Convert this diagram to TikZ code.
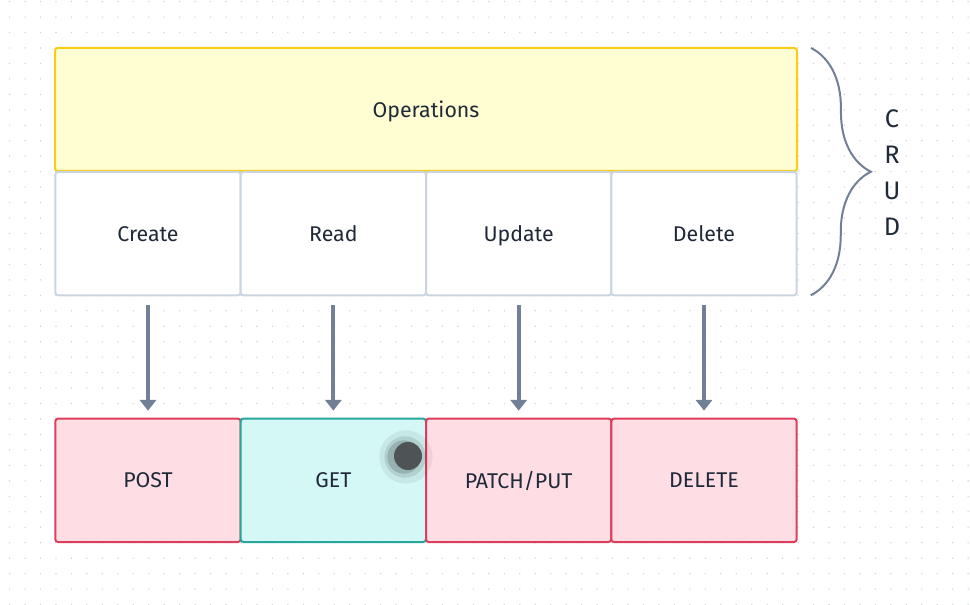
\documentclass[tikz,border=0pt]{standalone}
\usepackage{fontspec}
\setmainfont{Fira Sans}
\usetikzlibrary{positioning,arrows.meta,matrix,decorations.pathreplacing}
\definecolor{opsfill}{HTML}{FFFDD2}
\definecolor{opsline}{HTML}{FACC15}
\definecolor{crudline}{HTML}{CBD5E1}
\definecolor{postfill}{HTML}{FFDDE4}
\definecolor{postline}{HTML}{DC3D5A}
\definecolor{getfill}{HTML}{D3F8F6}
\definecolor{getline}{HTML}{26A69A}
\definecolor{arrowc}{HTML}{718096}
\definecolor{textc}{HTML}{1F2937}
\definecolor{dotc}{HTML}{CDD3DE}
\definecolor{blobc}{HTML}{4E5355}
\tikzstyle{opsbox}  = [rectangle, draw=opsline, fill=opsfill, line width=1.5pt, rounded corners=2pt,
                       minimum width=556.5pt, minimum height=92.25pt, outer sep=0pt, text=textc,
                       text depth=0pt]
\tikzstyle{arrow}   = [line width=3pt, draw=arrowc, -{Triangle[width=12pt,length=8pt]}]
\tikzstyle{brace}   = [decorate, decoration={brace, amplitude=45pt}, line width=1.5pt, draw=arrowc]
\tikzstyle{getcell} = [draw=getline, fill=getfill]

\begin{document}
\begin{tikzpicture}[x=0.75pt, y=-0.75pt, font=\fontsize{16}{19}\selectfont,
			crudgrid/.style={matrix of nodes, inner sep=0pt, outer sep=0pt, column sep=-1.5pt, row sep=91pt,
					nodes={draw, rectangle, rounded corners=2pt, line width=1.5pt, minimum width=139pt,
							minimum height=92.5pt, outer sep=0pt, text=textc, text depth=0pt, anchor=center},
					row 1/.style={nodes={draw=crudline, fill=white}},
					row 2/.style={nodes={draw=postline, fill=postfill}},
				}]
		\useasboundingbox (0,0) rectangle (970,605);

		% dotted grid
		\foreach \gx in {0,...,62}
			\foreach \gy in {0,...,39}
				\fill[dotc] (9.6+\gx*15.46, 1.6+\gy*15.46) circle (0.6pt);

		\node[opsbox] (ops) at (426,109.5) {Operations};

		\matrix[crudgrid, below=0pt of ops] (crud) {
			Create & Read          & Update    & Delete \\
			POST   & |[getcell]|GET & PATCH/PUT & DELETE \\
		};

		\foreach \i in {1,...,4}
			\draw[arrow] ([yshift=-7.5pt]crud-1-\i.south) -- ([yshift=6pt]crud-2-\i.north);

		\draw[brace] ([xshift=10.5pt]ops.north east) -- ([xshift=10.5pt]crud-1-4.south east);
		\node[align=center, text=textc, font=\fontsize{19}{27}\selectfont] (crudlabel) at (892,173) {C\\R\\U\\D};

		% cursor
		\fill[black, opacity=0.06] (406,457) circle (20pt);
		\fill[black, opacity=0.10] (405,457) circle (15.5pt);
		\fill[black, opacity=0.15] (404,457) circle (12.5pt);
		\fill[blobc] (408,456) circle (10.5pt);
	\end{tikzpicture}
\end{document}
